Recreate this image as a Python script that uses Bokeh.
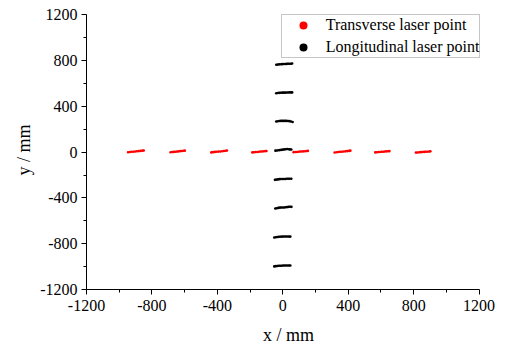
from bokeh.plotting import figure
from bokeh.models import FixedTicker, Legend, LegendItem, ColumnDataSource
from bokeh.embed import file_html
from bokeh.resources import INLINE

# ---------------- data (mm) ----------------
x_ticks = [-1200, -800, -400, 0, 400, 800, 1200]
y_ticks = [-1200, -800, -400, 0, 400, 800, 1200]
minor_ticks = [-1000, -600, -200, 200, 600, 1000]
tick_text = {t: str(t) for t in x_ticks}

# Transverse laser points (8 clusters, each a short near-horizontal dash)
trans_x = [
    -946, -935, -924, -913, -902, -891, -880, -869, -858, -850,
    -686, -676, -666, -656, -646, -636, -626, -616, -606, -599,
    -437, -426, -415, -404, -393, -382, -371, -360, -349, -341,
    -186, -176, -166, -156, -146, -136, -126, -116, -106, -100,
      66,   76,   86,   96,  106,  116,  126,  136,  146,  153,
     317,  328,  339,  350,  361,  372,  383,  394,  405,  413,
     565,  575,  585,  595,  605,  615,  625,  635,  645,  652,
     814,  824,  834,  844,  854,  864,  874,  884,  894,  902,
]
trans_y = [
     -1,   1,   3,   4,   6,   8,   9,  11,  13,  15,
     -1,   1,   2,   4,   5,   7,   9,  10,  12,  13,
     -2,   0,   2,   3,   5,   6,   8,  10,  12,  14,
     -2,  -1,   1,   2,   3,   5,   6,   8,   9,  10,
      0,   1,   2,   3,   5,   6,   7,   8,  10,  11,
     -3,  -1,   1,   3,   4,   6,   7,   9,  11,  13,
     -2,  -1,   1,   2,   3,   4,   6,   7,   8,   9,
     -4,  -3,  -1,   0,   1,   2,   3,   4,   6,   7,
]

# Longitudinal laser points (8 clusters, each a short dash near x = 0)
long_x = [
    -40, -31, -22, -13, -4, 5, 14, 23, 32, 41, 50, 57,
    -40, -31, -22, -13, -4, 5, 14, 23, 32, 41, 50, 57,
    -40, -31, -22, -13, -4, 5, 14, 23, 32, 41, 50, 60,
    -45, -36, -27, -18, -9, 0, 9, 18, 27, 36, 44, 52,
    -48, -39, -30, -21, -12, -3, 6, 15, 24, 33, 42, 52,
    -46, -37, -28, -19, -10, -1, 8, 17, 26, 35, 44, 53,
    -52, -43, -34, -25, -16, -7, 2, 11, 20, 29, 38, 46,
    -52, -43, -34, -25, -16, -7, 2, 11, 20, 29, 38, 46,
]
long_y = [
    763, 765, 767, 768, 769, 770, 770, 771, 772, 772, 773, 774,
    515, 517, 518, 519, 520, 520, 520, 521, 521, 522, 522, 522,
    268, 270, 272, 273, 273, 273, 273, 273, 272, 271, 268, 263,
     13,  15,  17,  18,  20,  22,  24,  25,  28,  26,  24,  23,
   -242,-240,-238,-236,-235,-235,-234,-234,-233,-233,-233,-233,
   -492,-490,-487,-485,-484,-484,-483,-482,-480,-478,-477,-478,
   -746,-744,-742,-740,-739,-738,-738,-737,-737,-737,-738,-738,
   -998,-996,-994,-993,-992,-992,-991,-991,-991,-990,-990,-990,
]

SERIF = "Liberation Serif"

# frame is a little wider/taller than the axes so the legend box is not clipped
p = figure(width=505, height=348, x_range=(-1200, 1269.7), y_range=(-1200, 1237.6),
           output_backend="svg", toolbar_location=None,
           min_border_left=86, min_border_right=15, min_border_top=10, min_border_bottom=59)
p.outline_line_color = None
p.xgrid.visible = False
p.ygrid.visible = False
p.background_fill_color = "white"
p.border_fill_color = "white"

for ax, ticks in ((p.xaxis[0], x_ticks), (p.yaxis[0], y_ticks)):
    ax.ticker = FixedTicker(ticks=ticks, minor_ticks=minor_ticks)
    ax.bounds = (-1200, 1200)
    ax.major_label_overrides = dict(tick_text)
    ax.axis_line_color = "black"
    ax.axis_line_width = 1
    ax.major_tick_line_color = "black"
    ax.minor_tick_line_color = "black"
    ax.major_tick_out = 5
    ax.major_tick_in = 0
    ax.minor_tick_out = 3
    ax.minor_tick_in = 0
    ax.major_label_text_font = SERIF
    ax.major_label_text_font_size = "16px"
    ax.major_label_text_color = "black"
    ax.axis_label_text_font = SERIF
    ax.axis_label_text_font_size = "18px"
    ax.axis_label_text_font_style = "normal"
    ax.axis_label_text_color = "black"
p.xaxis[0].axis_label = "x / mm"
p.yaxis[0].axis_label = "y / mm"
p.xaxis[0].major_label_standoff = 5
p.yaxis[0].major_label_standoff = 4
p.xaxis[0].axis_label_standoff = 11
p.yaxis[0].axis_label_standoff = 3

r_src = ColumnDataSource(dict(x=trans_x, y=trans_y))
l_src = ColumnDataSource(dict(x=long_x, y=long_y))
p.scatter("x", "y", source=r_src, size=2.6, color="#ff0000", line_color=None)
p.scatter("x", "y", source=l_src, size=2.6, color="black", line_color=None)

# hidden legend proxies (bigger dots in the legend only)
proxy_r = ColumnDataSource(dict(x=trans_x[:1], y=trans_y[:1]))
proxy_b = ColumnDataSource(dict(x=long_x[:1], y=long_y[:1]))
lr = p.scatter("x", "y", source=proxy_r, size=7, color="#ff0000", line_color=None, visible=False)
lb = p.scatter("x", "y", source=proxy_b, size=7, color="black", line_color=None, visible=False)
legend = Legend(items=[LegendItem(label="Transverse laser point", renderers=[lr], index=0),
                       LegendItem(label="Longitudinal laser point", renderers=[lb], index=0)],
                location=(194.7, 231.3), orientation="vertical",
                padding=0, spacing=2, margin=0,
                glyph_width=42, glyph_height=20, label_height=20, label_standoff=2,
                label_text_font=SERIF, label_text_font_size="16px",
                label_text_color="black", label_text_baseline="middle",
                inactive_fill_alpha=0,
                border_line_color="#8c8c8c", border_line_width=1,
                background_fill_color="white", background_fill_alpha=1)
p.add_layout(legend, "center")

open("out.html", "w").write(file_html(p, INLINE))
